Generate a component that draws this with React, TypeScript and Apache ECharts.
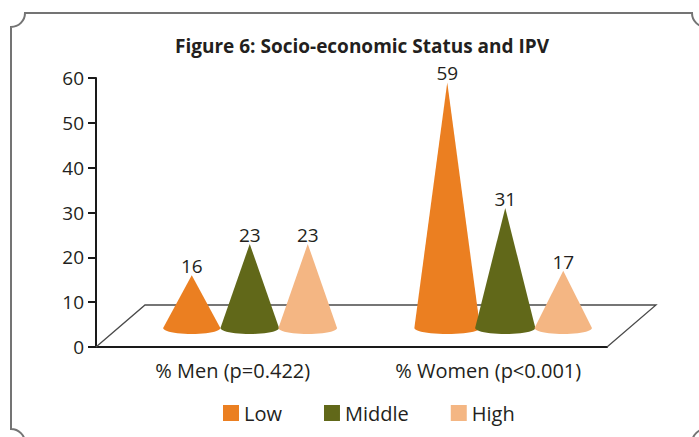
import React, { useEffect, useRef } from "react";
import * as echarts from "echarts";

const categories = ["% Men (p=0.422)", "% Women (p<0.001)"];
const seriesNames = ["Low", "Middle", "High"];
const lowValues = [16, 59];
const middleValues = [23, 31];
const highValues = [23, 17];
const yTicks = { min: 0, max: 60, interval: 10 };
const colors = ["#EB7F21", "#616819", "#F4B683"];

const FONT = "Open Sans";
const TEXT = "#231F20";

const FRAME_D =
  "M25 13 L692 13 A14 14 0 0 0 706 27 L706 429 A14 14 0 0 0 692 443 L25 443 A14 14 0 0 0 11 429 L11 27 A14 14 0 0 0 25 13 Z";

let registered = false;
function ensureShapes() {
  if (registered) return;
  echarts.graphic.registerShape("frame", echarts.graphic.extendPath(FRAME_D, {}) as any);
  registered = true;
}

const DEPTH_X = 49;
const DEPTH_Y = 42;
const MID_SHIFT_X = 26;
const MID_SHIFT_Y = 19;
const CONE_SPACING = 58;
const BASE_RY = 6;

function coneRender(params: any, api: any) {
  const cat = api.value(0);
  const v = api.value(1);
  const tip = api.coord([cat, v]);
  const zero = api.coord([cat, 0]);
  const offset = params.seriesIndex - 2;
  const cx = tip[0] + MID_SHIFT_X + offset * CONE_SPACING;
  const by = zero[1] - MID_SHIFT_Y;
  const w = 54 + 0.2 * v;
  const hw = w / 2;
  const pts: number[][] = [[cx, tip[1]]];
  const n = 24;
  for (let i = 0; i <= n; i++) {
    const t = (Math.PI * i) / n;
    pts.push([cx + hw * Math.cos(t), by + BASE_RY * Math.sin(t)]);
  }
  const color = api.visual("color");
  return {
    type: "group",
    children: [
      {
        type: "polygon",
        shape: { points: pts },
        style: { fill: color, stroke: null },
      },
      {
        type: "text",
        style: {
          text: String(v),
          x: cx,
          y: tip[1] - 9,
          align: "center",
          verticalAlign: "middle",
          fontSize: 19,
          fontFamily: FONT,
          fill: TEXT,
        },
      },
    ],
  };
}

function floorRender(params: any, api: any) {
  const cs = params.coordSys;
  const x0 = cs.x;
  const x1 = cs.x + cs.width;
  const yb = cs.y + cs.height;
  return {
    type: "polyline",
    shape: {
      points: [
        [x0, yb],
        [x0 + DEPTH_X, yb - DEPTH_Y],
        [x1 + DEPTH_X, yb - DEPTH_Y],
        [x1, yb],
      ],
    },
    style: { stroke: "#4A4A4A", lineWidth: 1.3, fill: null },
  };
}

export default function App() {
  const ref = useRef<HTMLDivElement>(null);
  useEffect(() => {
    ensureShapes();
    const chart = echarts.init(ref.current!, null, { renderer: "svg" });
    const valueSets = [lowValues, middleValues, highValues];
    const coneSeries = seriesNames.map((name, i) => ({
      type: "custom",
      name,
      renderItem: coneRender,
      itemStyle: { color: colors[i] },
      data: categories.map((_, c) => [c, valueSets[i][c]]),
      z: 3,
    }));
    chart.setOption({
      animation: false,
      textStyle: { fontFamily: FONT },
      title: {
        text: "Figure 6: Socio-economic Status and IPV",
        left: 170,
        top: 31,
        textStyle: { fontSize: 19, fontWeight: "bold", color: TEXT, fontFamily: FONT },
      },
      graphic: [
        {
          type: "frame",
          x: 0,
          y: 0,
          silent: true,
          style: { fill: null, stroke: "#747474", lineWidth: 2 },
        },
      ],
      legend: {
        data: seriesNames,
        left: 223,
        top: 403,
        padding: 0,
        icon: "rect",
        itemWidth: 16,
        itemHeight: 16,
        itemGap: 42,
        textStyle: { fontSize: 20, color: TEXT, fontFamily: FONT },
      },
      grid: { left: 96, top: 78, width: 511, height: 269, containLabel: false },
      xAxis: {
        type: "category",
        data: categories,
        axisLine: { lineStyle: { color: "#1A1A1A", width: 2 } },
        axisTick: { length: 9, lineStyle: { color: "#1A1A1A", width: 2 } },
        axisLabel: {
          fontSize: 20,
          color: TEXT,
          margin: 13,
          padding: [0, 0, 0, 18],
          fontFamily: FONT,
        },
      },
      yAxis: {
        type: "value",
        min: yTicks.min,
        max: yTicks.max,
        interval: yTicks.interval,
        splitLine: { show: false },
        axisLine: { show: true, lineStyle: { color: "#1A1A1A", width: 2 } },
        axisTick: { show: true, length: 8, lineStyle: { color: "#1A1A1A", width: 2 } },
        axisLabel: { fontSize: 19, color: TEXT, margin: 12, fontFamily: FONT },
      },
      series: [
        {
          type: "custom",
          name: "floor",
          renderItem: floorRender,
          data: [[0, 0]],
          silent: true,
          z: 1,
        },
        ...coneSeries,
      ],
    });
    return () => chart.dispose();
  }, []);
  return (
    <div
      ref={ref}
      style={{ position: "fixed", left: 0, top: 0, width: 699, height: 437, background: "#fff" }}
    />
  );
}
